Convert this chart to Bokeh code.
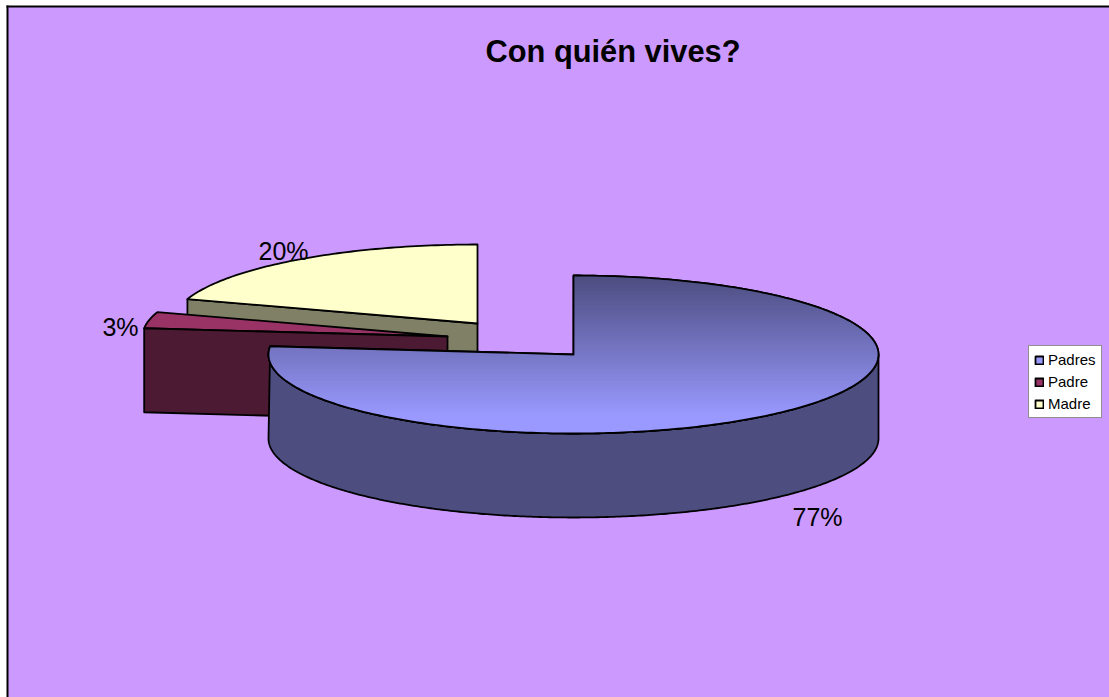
import numpy as np
from bokeh.plotting import figure
from bokeh.models import Legend, LegendItem
from bokeh.core.properties import value
from bokeh.embed import file_html
from bokeh.resources import INLINE

# Data
categories = ["Padres", "Padre", "Madre"]
counts = [23, 1, 6]
top_colors = ["#9999ff", "#993366", "#ffffcc"]
side_colors = ["#4d4d80", "#4d1a33", "#808066"]
title_text = "Con quién vives?"

# Layout of the exploded 3D pie (image pixels)
RX, RY, DEPTH = 305, 79, 84
centers = [(573, 354), (447, 336), (477, 323)]
label_pos = [(817, 516.5), (120, 326.5), (283, 250.5)]
GRAD_TOP, GRAD_BOTTOM = 275, 415
DARK, LIGHT = np.array([0x4d, 0x4d, 0x80]), np.array([0x99, 0x99, 0xff])
OUT = 1.8
W, H = 1109, 697

p = figure(width=W, height=H, x_range=(0, W), y_range=(H, 0),
           output_backend="svg", toolbar_location=None, min_border=0,
           background_fill_color="white", border_fill_color="white",
           outline_line_color=None)
p.axis.visible = False
p.grid.visible = False

# Chart area
p.quad(left=[7], right=[W], top=[6], bottom=[H], fill_color="#cc99ff", line_color=None)

fr = np.array(counts, dtype=float) / sum(counts)
edges = np.concatenate([[0], np.cumsum(fr)]) * 2 * np.pi
angles = list(zip(edges[:-1], edges[1:]))


def rim(c, a):
    return c[0] + RX * np.sin(a), c[1] - RY * np.cos(a)


def top_face(c, a0, a1):
    a = np.linspace(a0, a1, max(8, int((a1 - a0) * 60)))
    x, y = rim(c, a)
    return np.r_[c[0], x], np.r_[c[1], y]


def radial_wall(c, a):
    x, y = rim(c, a)
    return [c[0], x, x, c[0]], [c[1], y, y + DEPTH, c[1] + DEPTH]


def clip_below(xs, ys, y0):
    """Part of a polygon at or below the screen row y0."""
    out_x, out_y = [], []
    n = len(xs)
    for i in range(n):
        x1, y1, x2, y2 = xs[i], ys[i], xs[(i + 1) % n], ys[(i + 1) % n]
        if y1 >= y0:
            out_x.append(x1)
            out_y.append(y1)
        if (y1 >= y0) != (y2 >= y0):
            t = (y0 - y1) / (y2 - y1)
            out_x.append(x1 + t * (x2 - x1))
            out_y.append(y0)
    return out_x, out_y


line = dict(line_color="black", line_width=OUT, line_join="round")
legend_renderers = {}

# Madre (back)
a0, a1 = angles[2]
xs, ys = radial_wall(centers[2], a0)
p.patch(xs, ys, fill_color=side_colors[2], **line)
xs, ys = top_face(centers[2], a0, a1)
legend_renderers[2] = p.patch(xs, ys, fill_color=top_colors[2], **line)

# Padre
a0, a1 = angles[1]
xs, ys = top_face(centers[1], a0, a1)
legend_renderers[1] = p.patch(xs, ys, fill_color=top_colors[1], **line)
xs, ys = radial_wall(centers[1], a0)
p.patch(xs, ys, fill_color=side_colors[1], **line)

# Padres: outer wall
a0, a1 = angles[0]
c = centers[0]
a = np.linspace(np.pi / 2, a1, 300)
b = np.linspace(1.5 * np.pi, np.pi / 2, 300)
wx, wy = rim(c, a)
bx, by = rim(c, b)
p.patch(np.r_[wx, bx], np.r_[wy, by + DEPTH], fill_color=side_colors[0], **line)

# Padres: top face with vertical gradient
xs, ys = top_face(c, a0, a1)
legend_renderers[0] = p.patch(xs, ys, fill_color=top_colors[0], line_color="black", line_width=OUT)
for yb in range(GRAD_TOP, GRAD_BOTTOM):
    t = (yb - GRAD_TOP) / (GRAD_BOTTOM - GRAD_TOP)
    col = DARK + t * (LIGHT - DARK)
    cx, cy = clip_below(list(xs), list(ys), yb)
    if len(cx) > 2:
        p.patch(cx, cy, fill_color="#%02x%02x%02x" % tuple(int(round(v)) for v in col), line_color=None)
cx, cy = clip_below(list(xs), list(ys), GRAD_BOTTOM)
if len(cx) > 2:
    p.patch(cx, cy, fill_color=top_colors[0], line_color=None)
p.patch(xs, ys, fill_color=None, **line)

# Percent labels
p.text([q[0] for q in label_pos], [q[1] for q in label_pos],
       text=[f"{round(f * 100)}%" for f in fr],
       text_font=value("Liberation Sans"), text_font_size="25px",
       text_color="black", text_align="center", text_baseline="middle")

# Title
p.text([612.5], [51], text=[title_text], text_font=value("Liberation Sans"),
       text_font_style="bold", text_font_size="30.8px", text_color="black",
       text_align="center", text_baseline="middle")

# Chart border (top and left only are inside the window)
p.multi_line([[7, 7], [6, W]], [[5, H], [6, 6]], line_color="black", line_width=2)

# Legend
legend = Legend(items=[LegendItem(label=n, renderers=[legend_renderers[i]]) for i, n in enumerate(categories)],
                location=(1028, H - 418), orientation="vertical",
                background_fill_color="white", background_fill_alpha=1,
                border_line_color="#222222", border_line_width=1.5,
                label_text_font="Liberation Sans", label_text_font_size="15px", label_text_color="black",
                glyph_width=10, glyph_height=10, label_standoff=4,
                spacing=5, padding=5, margin=0, label_height=17)
p.add_layout(legend)

open("out.html", "w").write(file_html(p, INLINE))
